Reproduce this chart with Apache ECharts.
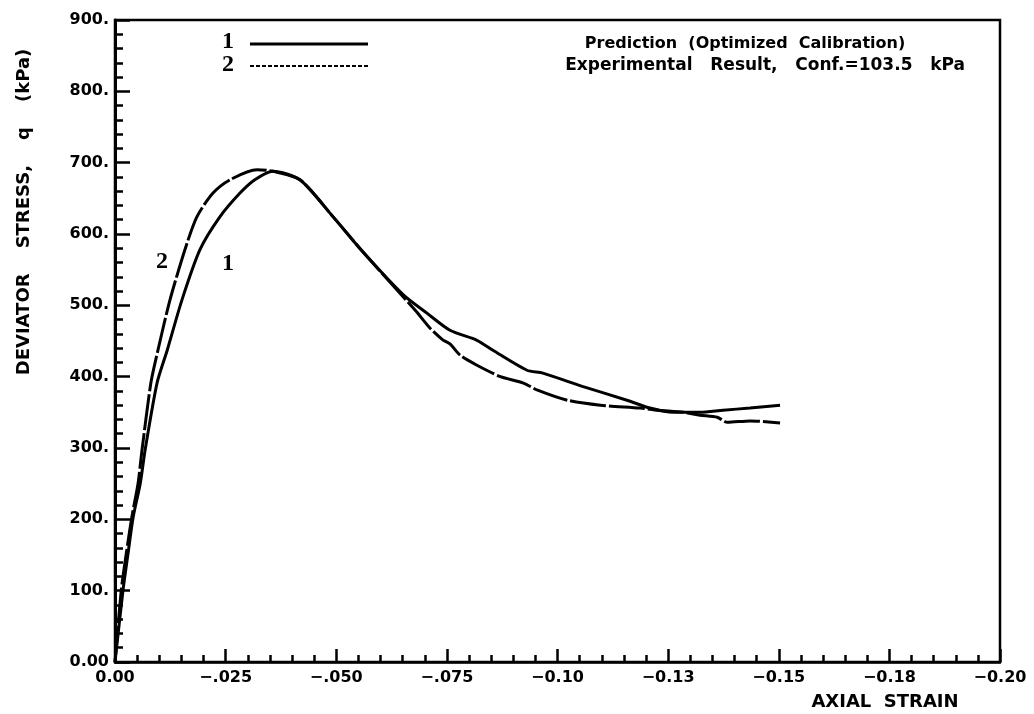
<!DOCTYPE html>
<html>
<head>
<meta charset="utf-8">
<script src="https://cdn.jsdelivr.net/npm/echarts@6/dist/echarts.min.js"></script>
<style>html,body{margin:0;padding:0;background:#fff}#c{width:1034px;height:714px}</style>
</head>
<body>
<div id="c"></div>
<script>
// Axial strain (negative) and deviator stress (kPa)
const predStrain = [0, -0.0018, -0.0029, -0.0041, -0.0057, -0.0068, -0.0095, -0.0118, -0.0151, -0.0192, -0.0237, -0.0282, -0.0316, -0.0357, -0.0418, -0.0493, -0.0560, -0.0651, -0.0705, -0.0757, -0.0818, -0.0854, -0.0931, -0.0967, -0.1058, -0.1157, -0.1209, -0.1261, -0.1322, -0.1374, -0.1435, -0.1503];
const predStress = [0, 100, 150, 203, 250, 297, 391, 437, 507, 578, 624, 657, 676, 688, 676, 624, 575, 515, 489, 465, 451, 437, 409, 405, 386, 367, 356, 350, 350, 353, 356, 360];
const expStrain = [0, -0.0014, -0.0025, -0.0038, -0.0052, -0.0061, -0.0081, -0.0097, -0.0124, -0.0158, -0.0185, -0.0221, -0.0260, -0.0321, -0.0357, -0.0418, -0.0493, -0.0560, -0.0644, -0.0680, -0.0712, -0.0740, -0.0757, -0.0780, -0.0818, -0.0871, -0.0923, -0.0955, -0.1022, -0.1097, -0.1187, -0.1226, -0.1285, -0.1322, -0.1361, -0.1384, -0.1435, -0.1503];
const expStress = [0, 100, 150, 203, 250, 297, 391, 437, 507, 578, 624, 657, 676, 690, 688, 676, 624, 575, 517, 492, 468, 452, 446, 430, 416, 400, 391, 381, 367, 360, 356, 353, 350, 346, 343, 336, 338, 335];
const xTickLabels = {"0": "0.00", "-0.025": "\u2212.025", "-0.05": "\u2212.050", "-0.075": "\u2212.075", "-0.1": "\u22120.10", "-0.125": "\u22120.13", "-0.15": "\u22120.15", "-0.175": "\u22120.18", "-0.2": "\u22120.20"};
const yTickLabels = ["0.00", "100.", "200.", "300.", "400.", "500.", "600.", "700.", "800.", "900."];
const seriesNames = ["Prediction (Optimized Calibration)", "Experimental Result, Conf.=103.5 kPa"];

const zip = (a, b) => a.map((v, i) => [v, b[i]]);
const F = 'DejaVu Sans';
const chart = echarts.init(document.getElementById('c'), null, {renderer: 'canvas'});
chart.setOption({
  backgroundColor: '#fff',
  animation: false,
  grid: {left: 115, right: 34, top: 20, bottom: 52, show: true, borderColor: '#000', borderWidth: 2.5, backgroundColor: 'transparent'},
  xAxis: {
    type: 'value', min: -0.2, max: 0, interval: 0.025, inverse: true,
    axisLine: {show: true, onZero: false, lineStyle: {color: '#000', width: 2.5}},
    axisTick: {show: true, inside: true, length: 13, lineStyle: {color: '#000', width: 2.5}},
    minorTick: {show: true, splitNumber: 5, length: 7, lineStyle: {color: '#000', width: 2.5}},
    splitLine: {show: false},
    axisLabel: {color: '#000', fontFamily: F, fontWeight: 'bold', fontSize: 16, margin: 8,
      formatter: v => { const k = String(Math.round(v * 1000) / 1000); return xTickLabels[k] !== undefined ? xTickLabels[k] : ''; }}
  },
  yAxis: {
    type: 'value', min: 0, max: 900, interval: 100,
    axisLine: {show: true, lineStyle: {color: '#000', width: 3}},
    axisTick: {show: true, inside: true, length: 15, lineStyle: {color: '#000', width: 2.5}},
    minorTick: {show: true, splitNumber: 5, length: 8, lineStyle: {color: '#000', width: 2.5}},
    splitLine: {show: false},
    axisLabel: {color: '#000', fontFamily: F, fontWeight: 'bold', fontSize: 16, margin: 6,
      formatter: v => yTickLabels[Math.round(v / 100)]}
  },
  series: [
    {name: seriesNames[0], type: 'line', data: zip(predStrain, predStress), showSymbol: false, smooth: 0.25,
     lineStyle: {color: '#000', width: 3}},
    {name: seriesNames[1], type: 'line', data: zip(expStrain, expStress), showSymbol: false, smooth: 0.25,
     lineStyle: {color: '#000', width: 3, type: [36, 3]}}
  ],
  graphic: [
    {type: 'text', left: 222, top: 30, style: {text: '1', font: 'bold 24px "Liberation Serif"', fill: '#000'}},
    {type: 'line', shape: {x1: 250, y1: 44, x2: 368, y2: 44}, style: {stroke: '#000', lineWidth: 3}},
    {type: 'text', left: 222, top: 53, style: {text: '2', font: 'bold 24px "Liberation Serif"', fill: '#000'}},
    {type: 'line', shape: {x1: 250, y1: 66, x2: 368, y2: 66}, style: {stroke: '#000', lineWidth: 2, lineDash: [4, 2]}},
    {type: 'text', x: 745, y: 44, style: {text: 'Prediction  (Optimized  Calibration)', font: 'bold 16px "DejaVu Sans"', fill: '#000', textAlign: 'center', textVerticalAlign: 'middle'}},
    {type: 'text', x: 965, y: 66, style: {text: 'Experimental   Result,   Conf.=103.5   kPa', font: 'bold 17px "DejaVu Sans"', fill: '#000', textAlign: 'right', textVerticalAlign: 'middle'}},
    {type: 'text', x: 162, y: 262, style: {text: '2', font: 'bold 24px "Liberation Serif"', fill: '#000', textAlign: 'center', textVerticalAlign: 'middle'}},
    {type: 'text', x: 228, y: 264, style: {text: '1', font: 'bold 24px "Liberation Serif"', fill: '#000', textAlign: 'center', textVerticalAlign: 'middle'}},
    {type: 'text', x: 885, y: 702, style: {text: 'AXIAL  STRAIN', font: 'bold 18px "DejaVu Sans"', fill: '#000', textAlign: 'center', textVerticalAlign: 'middle'}},
    {type: 'text', x: 24, y: 212, rotation: Math.PI / 2, style: {text: 'DEVIATOR    STRESS,    q    (kPa)', font: 'bold 18px "DejaVu Sans"', fill: '#000', textAlign: 'center', textVerticalAlign: 'middle'}}
  ]
});
</script>
</body>
</html>
